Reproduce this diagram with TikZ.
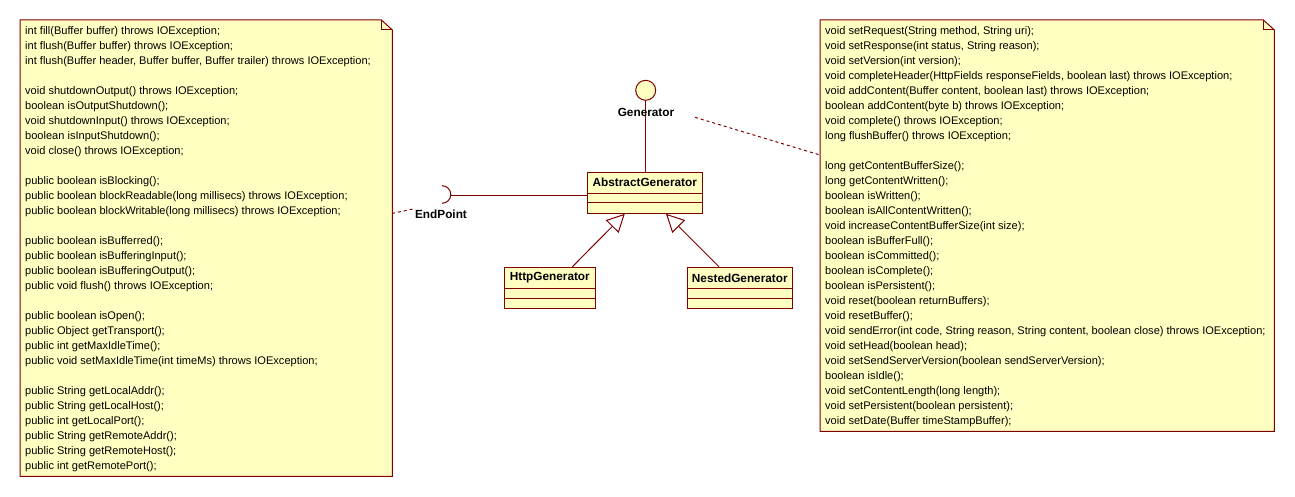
\documentclass[tikz,border=0pt]{standalone}
\usepackage{fontspec}
\setmainfont{Liberation Sans}
\usetikzlibrary{arrows.meta}
\definecolor{umlred}{RGB}{128,0,0}
\definecolor{umlfill}{RGB}{255,255,193}
\begin{document}
\begin{tikzpicture}[x=1pt,y=-1pt,
  umlline/.style={draw=umlred, line width=1pt},
  notebody/.style={inner sep=0pt, anchor=north west},
  notetext/.style={align=left, inner sep=0pt, anchor=north west, font=\fontsize{11.05}{15}\selectfont},
  classbox/.style={draw=umlred, fill=umlfill, line width=1pt, inner sep=0pt},
  classname/.style={inner sep=0pt, font=\fontsize{11.8}{14}\selectfont\bfseries},
  ifacecircle/.style={circle, draw=umlred, fill=umlfill, line width=1pt, inner sep=0pt, minimum size=20pt},
  noteconn/.style={draw=umlred, line width=1pt, dash pattern=on 3pt off 3pt},
  inherit/.style={draw=umlred, line width=1pt, -{Triangle[open, length=18pt, width=18pt]}}
]
\useasboundingbox (0,0) rectangle (1295,497);
\fill[white] (0,0) rectangle (1295,497);

% ---------- left note ----------
\node[notebody, minimum width=372pt, minimum height=456pt] (leftnote) at (20,20) {};
\fill[umlfill] (leftnote.north west) -- ([xshift=-11pt]leftnote.north east) -- ([yshift=-10pt]leftnote.north east) -- (leftnote.south east) -- (leftnote.south west) -- cycle;
\draw[umlline] (leftnote.north west) -- ([xshift=-11pt]leftnote.north east) -- ([yshift=-10pt]leftnote.north east) -- (leftnote.south east) -- (leftnote.south west) -- cycle;
\draw[umlline] ([xshift=-11pt]leftnote.north east) -- ([xshift=-11pt,yshift=-10pt]leftnote.north east) -- ([yshift=-10pt]leftnote.north east);
\node[notetext] (lefttext) at (25,26.4) {int fill(Buffer buffer) throws IOException;\\
int flush(Buffer buffer) throws IOException;\\
int flush(Buffer header, Buffer buffer, Buffer trailer) throws IOException;\\[15pt]
void shutdownOutput() throws IOException;\\
boolean isOutputShutdown();\\
void shutdownInput() throws IOException;\\
boolean isInputShutdown();\\
void close() throws IOException;\\[15pt]
public boolean isBlocking();\\
public boolean blockReadable(long millisecs) throws IOException;\\
public boolean blockWritable(long millisecs) throws IOException;\\[15pt]
public boolean isBufferred();\\
public boolean isBufferingInput();\\
public boolean isBufferingOutput();\\
public void flush() throws IOException;\\[15pt]
public boolean isOpen();\\
public Object getTransport();\\
public int getMaxIdleTime();\\
public void setMaxIdleTime(int timeMs) throws IOException;\\[15pt]
public String getLocalAddr();\\
public String getLocalHost();\\
public int getLocalPort();\\
public String getRemoteAddr();\\
public String getRemoteHost();\\
public int getRemotePort();};

% ---------- right note ----------
\node[notebody, minimum width=454pt, minimum height=411pt] (rightnote) at (820,20) {};
\fill[umlfill] (rightnote.north west) -- ([xshift=-11pt]rightnote.north east) -- ([yshift=-10pt]rightnote.north east) -- (rightnote.south east) -- (rightnote.south west) -- cycle;
\draw[umlline] (rightnote.north west) -- ([xshift=-11pt]rightnote.north east) -- ([yshift=-10pt]rightnote.north east) -- (rightnote.south east) -- (rightnote.south west) -- cycle;
\draw[umlline] ([xshift=-11pt]rightnote.north east) -- ([xshift=-11pt,yshift=-10pt]rightnote.north east) -- ([yshift=-10pt]rightnote.north east);
\node[notetext] (righttext) at (825,26.4) {void setRequest(String method, String uri);\\
void setResponse(int status, String reason);\\
void setVersion(int version);\\
void completeHeader(HttpFields responseFields, boolean last) throws IOException;\\
void addContent(Buffer content, boolean last) throws IOException;\\
boolean addContent(byte b) throws IOException;\\
void complete() throws IOException;\\
long flushBuffer() throws IOException;\\[15pt]
long getContentBufferSize();\\
long getContentWritten();\\
boolean isWritten();\\
boolean isAllContentWritten();\\
void increaseContentBufferSize(int size);\\
boolean isBufferFull();\\
boolean isCommitted();\\
boolean isComplete();\\
boolean isPersistent();\\
void reset(boolean returnBuffers);\\
void resetBuffer();\\
void sendError(int code, String reason, String content, boolean close) throws IOException;\\
void setHead(boolean head);\\
void setSendServerVersion(boolean sendServerVersion);\\
boolean isIdle();\\
void setContentLength(long length);\\
void setPersistent(boolean persistent);\\
void setDate(Buffer timeStampBuffer);};

% ---------- classes ----------
\node[classbox, minimum width=115pt, minimum height=40.6pt] (abs) at (644.8,193) {};
\draw[umlline] ([yshift=-21.6pt]abs.north west) -- ([yshift=-21.6pt]abs.north east);
\draw[umlline] ([yshift=-30.6pt]abs.north west) -- ([yshift=-30.6pt]abs.north east);
\node[classname] (absname) at ([yshift=-10.3pt]abs.north) {AbstractGenerator};

\node[classbox, minimum width=91pt, minimum height=41pt] (http) at (549.8,287.8) {};
\draw[umlline] ([yshift=-22pt]http.north west) -- ([yshift=-22pt]http.north east);
\draw[umlline] ([yshift=-31.4pt]http.north west) -- ([yshift=-31.4pt]http.north east);
\node[classname] (httpname) at ([yshift=-11pt]http.north) {HttpGenerator};

\node[classbox, minimum width=105pt, minimum height=41pt] (nested) at (739.8,287.8) {};
\draw[umlline] ([yshift=-22pt]nested.north west) -- ([yshift=-22pt]nested.north east);
\draw[umlline] ([yshift=-31.4pt]nested.north west) -- ([yshift=-31.4pt]nested.north east);
\node[classname] (nestedname) at ([yshift=-11pt]nested.north) {NestedGenerator};

% ---------- provided interface Generator ----------
\node[ifacecircle] (gen) at (645.7,90.3) {};
\draw[umlline] (gen.south) -- (gen.south |- abs.north);
\node[classname] (genlabel) at (646,112) {Generator};

% ---------- required interface EndPoint ----------
\coordinate (epcenter) at (442,194.5);
\draw[umlline] (442,185.7) arc[start angle=-90, end angle=90, radius=8.8];
\coordinate (ep) at (450.8,196);
\draw[umlline] (ep) -- (ep -| abs.west);
\node[classname] (eplabel) at (441,214) {EndPoint};

% ---------- generalizations ----------
\draw[inherit] ([xshift=22.5pt]http.north) -- ([xshift=-20pt]abs.south);
\draw[inherit] ([xshift=-20.8pt]nested.north) -- ([xshift=21.2pt]abs.south);

% ---------- note attachments ----------
\coordinate (lnanchor) at (392,213.5);
\coordinate (epnote) at (413,209);
\draw[noteconn] (lnanchor) -- (epnote);
\coordinate (gennote) at (695,117.3);
\coordinate (rnanchor) at (820,155);
\draw[noteconn] (gennote) -- (rnanchor);
\end{tikzpicture}
\end{document}
